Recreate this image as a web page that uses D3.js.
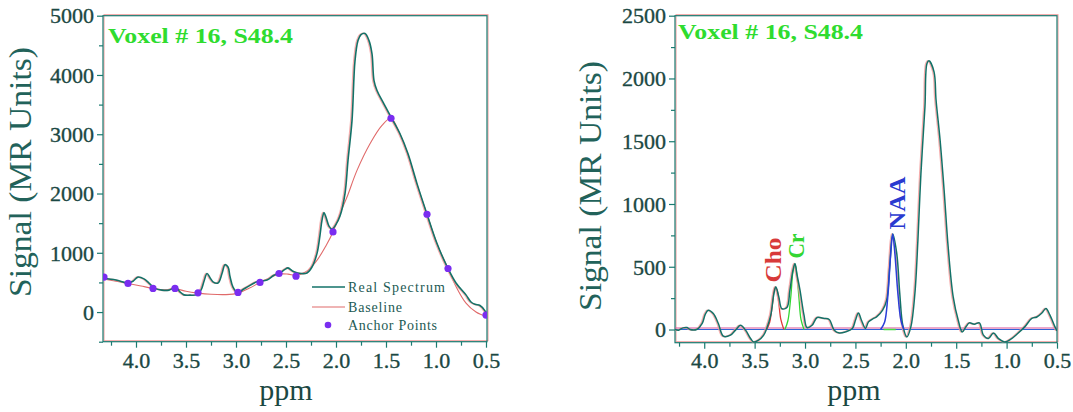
<!DOCTYPE html>
<html>
<head>
<meta charset="utf-8">
<script src="https://cdn.jsdelivr.net/npm/d3@7"></script>
<style>
  html, body { margin: 0; padding: 0; background: #ffffff; }
  svg { display: block; }
  text { font-family: "Liberation Serif", "DejaVu Serif", serif; }
</style>
</head>
<body>
<svg id="chart" width="1073" height="412"></svg>
<script>
// ---------------- DATA ----------------
const xTicks = [4.0, 3.5, 3.0, 2.5, 2.0, 1.5, 1.0, 0.5];
const xMinorTicks = [4.25, 3.75, 3.25, 2.75, 2.25, 1.75, 1.25, 0.75];
const leftYTicks = [0, 1000, 2000, 3000, 4000, 5000];
const leftYMinorTicks = [-500, 500, 1500, 2500, 3500, 4500];
const rightYTicks = [0, 500, 1000, 1500, 2000, 2500];
const rightYMinorTicks = [250, 750, 1250, 1750, 2250];

const titleText = "Voxel # 16, S48.4";
const yLabelText = "Signal (MR Units)";
const xLabelText = "ppm";
const legendLabels = ["Real Spectrum", "Baseline", "Anchor Points"];
const peakLabels = ["Cho", "Cr", "NAA"];

// Left panel: real spectrum
const leftPpm = [4.33,4.20,4.08,4.03,3.98,3.92,3.87,3.81,3.74,3.67,3.60,3.56,3.52,3.46,3.40,3.35,3.32,3.29,3.26,3.23,3.18,3.14,3.11,3.08,3.06,3.03,2.98,2.93,2.89,2.79,2.69,2.62,2.56,2.51,2.48,2.44,2.42,2.35,2.29,2.24,2.19,2.16,2.14,2.12,2.10,2.07,2.04,2.00,1.96,1.91,1.88,1.84,1.81,1.78,1.75,1.71,1.67,1.64,1.62,1.59,1.53,1.45,1.36,1.28,1.19,1.09,0.99,0.88,0.80,0.70,0.65,0.61,0.56,0.51,0.49];
const leftSignal = [570,540,490,520,590,560,490,400,370,370,420,340,290,285,290,370,520,650,580,510,490,650,800,760,600,420,320,380,420,510,540,620,660,720,745,700,680,650,660,760,990,1300,1550,1680,1600,1450,1400,1480,1620,2000,2560,3230,4240,4580,4680,4700,4580,4355,3906,3737,3540,3290,3008,2670,2167,1650,1156,735,490,290,170,130,110,20,-50];

// Left panel: baseline
const baselinePpm = [4.33,4.20,4.08,3.95,3.83,3.72,3.61,3.50,3.38,3.25,3.10,2.98,2.87,2.76,2.66,2.57,2.48,2.40,2.30,2.20,2.10,2.03,1.95,1.89,1.79,1.66,1.54,1.45,1.36,1.28,1.19,1.09,0.99,0.88,0.80,0.70,0.60,0.49];
const baselineSignal = [560,520,483,440,400,375,395,350,320,300,295,320,400,500,580,640,640,620,680,850,1120,1352,1700,1940,2390,2840,3150,3270,3000,2650,2150,1650,1150,735,430,150,0,-80];

// Left panel: anchor points
const anchorPpm = [4.32,4.08,3.83,3.61,3.38,2.98,2.76,2.57,2.40,2.03,1.45,1.09,0.88,0.50];
const anchorSignal = [590,483,399,399,325,331,500,651,606,1352,3270,1650,735,-50];

// Right panel: baseline-corrected spectrum
const rightPpm = [4.29,4.255,4.21,4.17,4.14,4.07,4.02,3.99,3.96,3.91,3.86,3.81,3.74,3.69,3.64,3.59,3.54,3.51,3.46,3.41,3.38,3.34,3.31,3.29,3.26,3.23,3.18,3.15,3.12,3.10,3.08,3.05,3.01,2.98,2.93,2.88,2.81,2.76,2.71,2.66,2.60,2.53,2.50,2.47,2.44,2.40,2.37,2.32,2.29,2.23,2.19,2.16,2.13,2.09,2.06,2.03,1.99,1.95,1.91,1.88,1.85,1.81,1.79,1.77,1.72,1.70,1.66,1.62,1.58,1.53,1.48,1.44,1.40,1.37,1.32,1.27,1.23,1.18,1.13,1.08,1.02,0.95,0.89,0.82,0.75,0.70,0.65,0.61,0.57,0.52,0.50];
const rightSignal = [0,-5,13,16,0,2,48,120,154,127,48,-53,-45,-5,34,-5,-72,-99,-85,-45,8,114,280,340,260,167,175,313,470,526,440,313,114,16,34,96,88,80,-5,-27,-19,8,74,132,74,8,61,88,100,154,234,499,760,606,287,34,-59,21,287,712,1244,1775,2120,2141,2053,1828,1509,1110,659,260,74,-19,26,53,42,53,-45,-72,-27,-72,-99,-72,-32,21,88,100,132,167,114,21,-10];

// Right panel: fitted peaks
const choPpm = [3.38,3.35,3.32,3.30,3.28,3.26,3.24,3.21];
const choFit = [0,60,220,330,320,210,80,0];
const crPpm = [3.20,3.17,3.14,3.12,3.10,3.08,3.06,3.04,3.01];
const crFit = [0,70,270,460,520,430,250,80,0];
const naaPpm = [2.25,2.21,2.18,2.15,2.13,2.11,2.08,2.05,2.02];
const naaFit = [0,60,250,600,760,620,300,80,0];
const greenZeroPpm = [2.22, 2.10];
const greenZeroSignal = [0, 0];

// ---------------- DRAWING ----------------
const svg = d3.select("#chart");
const TEAL = "#1a7a70";
const GHOST = "#f29a9a";
const TXT = "#1b4843";

function zip(a, b) { return a.map((v, i) => [v, b[i]]); }

function drawPanel(p) {
  const x = d3.scaleLinear().domain(p.xDomain).range([p.left, p.right]);
  const y = d3.scaleLinear().domain(p.yDomain).range([p.bottom, p.top]);
  const g = svg.append("g");

  const clipId = "clip" + p.id;
  svg.append("clipPath").attr("id", clipId)
    .append("rect").attr("x", p.left).attr("y", p.top - 2)
    .attr("width", p.right - p.left).attr("height", p.bottom - p.top + 2);

  // frame ghost + frame
  g.append("rect").attr("x", p.left + 1).attr("y", p.top - 1)
    .attr("width", p.right - p.left).attr("height", p.bottom - p.top)
    .attr("fill", "none").attr("stroke", GHOST).attr("stroke-width", 1);
  g.append("rect").attr("x", p.left).attr("y", p.top)
    .attr("width", p.right - p.left).attr("height", p.bottom - p.top)
    .attr("fill", "none").attr("stroke", TEAL).attr("stroke-width", 1.2);

  // axes via d3
  const xAxis = d3.axisBottom(x).tickValues(p.xTicks).tickSize(6).tickPadding(6)
    .tickFormat(d3.format(".1f"));
  const xAx = g.append("g").attr("transform", `translate(0,${p.bottom})`).call(xAxis);
  const xMin = d3.axisBottom(x).tickValues(p.xMinor).tickSize(4).tickFormat("");
  const xAxM = g.append("g").attr("transform", `translate(0,${p.bottom})`).call(xMin);

  const yAxis = d3.axisLeft(y).tickValues(p.yTicks).tickSize(6).tickPadding(3)
    .tickFormat(d3.format("d"));
  const yAx = g.append("g").attr("transform", `translate(${p.left},0)`).call(yAxis);
  const yMin = d3.axisLeft(y).tickValues(p.yMinor).tickSize(4).tickFormat("");
  const yAxM = g.append("g").attr("transform", `translate(${p.left},0)`).call(yMin);

  [xAx, xAxM, yAx, yAxM].forEach(a => {
    a.select(".domain").remove();
    a.selectAll(".tick line").attr("stroke", TEAL).attr("stroke-width", 1.2);
  });
  xAx.selectAll(".tick text").attr("font-size", 22).attr("fill", TXT)
    .attr("stroke", TXT).attr("stroke-width", 0.35)
    .attr("dy", null).attr("y", 368 - p.bottom);
  yAx.selectAll(".tick text").attr("font-size", 22).attr("fill", TXT)
    .attr("stroke", TXT).attr("stroke-width", 0.35)
    .attr("dy", "0.33em");

  // labels
  g.append("text").attr("transform", `translate(${p.yLabelX},${p.yLabelY}) rotate(-90)`)
    .attr("text-anchor", "middle").attr("font-size", 32).attr("fill", "#22625a")
    .attr("textLength", 250).attr("lengthAdjust", "spacingAndGlyphs")
    .text(yLabelText);
  g.append("text").attr("x", p.xLabelX).attr("y", 400)
    .attr("text-anchor", "middle").attr("font-size", 30).attr("fill", TXT)
    .text(xLabelText);
  g.append("text").attr("x", p.titleX).attr("y", p.titleY)
    .attr("font-size", 22).attr("font-weight", "bold").attr("fill", "#2fdc2f")
    .attr("textLength", 185).attr("lengthAdjust", "spacingAndGlyphs")
    .text(titleText);

  const plot = g.append("g").attr("clip-path", `url(#${clipId})`);
  return { x, y, plot, g };
}

function addLine(plot, x, y, pts, color, width, curve, ghost) {
  const line = d3.line().x(d => x(d[0])).y(d => y(d[1])).curve(curve || d3.curveCatmullRom.alpha(0.5));
  if (ghost) {
    plot.append("path").datum(pts).attr("d", line).attr("fill", "none")
      .attr("stroke", GHOST).attr("stroke-width", width).attr("opacity", 0.8)
      .attr("transform", "translate(-1.2,0)");
  }
  plot.append("path").datum(pts).attr("d", line).attr("fill", "none")
    .attr("stroke", color).attr("stroke-width", width).attr("stroke-linejoin", "round");
}

// ---- Left panel ----
const L = drawPanel({
  id: "L", left: 103, right: 487, top: 15.7, bottom: 341.7,
  xDomain: [4.33, 0.49], yDomain: [-500, 5000],
  xTicks: xTicks, xMinor: xMinorTicks, yTicks: leftYTicks, yMinor: leftYMinorTicks,
  yLabelX: 31, yLabelY: 172, xLabelX: 286, titleX: 108, titleY: 43
});
addLine(L.plot, L.x, L.y, zip(baselinePpm, baselineSignal), "#e06a6a", 1.1, null, false);
addLine(L.plot, L.x, L.y, zip(leftPpm, leftSignal), "#137268", 1.6, null, true);
L.plot.selectAll("circle.anchor").data(zip(anchorPpm, anchorSignal)).join("circle")
  .attr("class", "anchor").attr("cx", d => L.x(d[0])).attr("cy", d => L.y(d[1]))
  .attr("r", 3.6).attr("fill", "#7a2df0");

// legend
const legend = L.g.append("g");
const legendY = [287, 307, 325];
legend.append("line").attr("x1", 312).attr("x2", 345).attr("y1", legendY[0]).attr("y2", legendY[0])
  .attr("stroke", "#137268").attr("stroke-width", 1.6);
legend.append("line").attr("x1", 312).attr("x2", 345).attr("y1", legendY[1]).attr("y2", legendY[1])
  .attr("stroke", "#e06a6a").attr("stroke-width", 1.2);
legend.append("circle").attr("cx", 328).attr("cy", legendY[2]).attr("r", 3.3).attr("fill", "#7a2df0");
const legendLens = [97, 54, 89];
legend.selectAll("text").data(legendLabels).join("text")
  .attr("x", 348).attr("y", (d, i) => legendY[i] + 5)
  .attr("font-size", 14).attr("fill", "#1d5a54")
  .attr("textLength", (d, i) => legendLens[i]).attr("lengthAdjust", "spacing")
  .text(d => d);

// ---- Right panel ----
const R = drawPanel({
  id: "R", left: 675, right: 1057, top: 15.7, bottom: 342.7,
  xDomain: [4.29, 0.5], yDomain: [-105, 2500],
  xTicks: xTicks, xMinor: xMinorTicks, yTicks: rightYTicks, yMinor: rightYMinorTicks,
  yLabelX: 601, yLabelY: 186, xLabelX: 854, titleX: 678, titleY: 39
});
// zero lines
R.plot.append("line").attr("x1", R.x(4.29)).attr("x2", R.x(0.5))
  .attr("y1", R.y(0) - 1.5).attr("y2", R.y(0) - 1.5).attr("stroke", "#d8509a").attr("stroke-width", 1.2);
R.plot.append("line").attr("x1", R.x(4.29)).attr("x2", R.x(0.5))
  .attr("y1", R.y(0)).attr("y2", R.y(0)).attr("stroke", "#2f64d6").attr("stroke-width", 1.2);
addLine(R.plot, R.x, R.y, zip(greenZeroPpm, greenZeroSignal), "#44dd44", 1.4, d3.curveLinear, false);
addLine(R.plot, R.x, R.y, zip(choPpm, choFit), "#e03a3a", 1.3, null, false);
addLine(R.plot, R.x, R.y, zip(crPpm, crFit), "#33d633", 1.3, null, false);
addLine(R.plot, R.x, R.y, zip(rightPpm, rightSignal), "#137268", 1.5, null, true);
addLine(R.plot, R.x, R.y, zip(naaPpm, naaFit), "#2a3fd8", 1.5, null, false);

// peak labels
const peakPos = [[781, 260, "#d83a3a", 45], [804, 246, "#33d633", 25], [905, 203, "#2a3ad0", 53]];
R.g.selectAll("text.peak").data(peakLabels).join("text").attr("class", "peak")
  .attr("transform", (d, i) => `translate(${peakPos[i][0]},${peakPos[i][1]}) rotate(-90)`)
  .attr("text-anchor", "middle").attr("font-size", 23).attr("font-weight", "bold")
  .attr("fill", (d, i) => peakPos[i][2])
  .attr("textLength", (d, i) => peakPos[i][3]).attr("lengthAdjust", "spacingAndGlyphs")
  .text(d => d);
</script>
</body>
</html>
